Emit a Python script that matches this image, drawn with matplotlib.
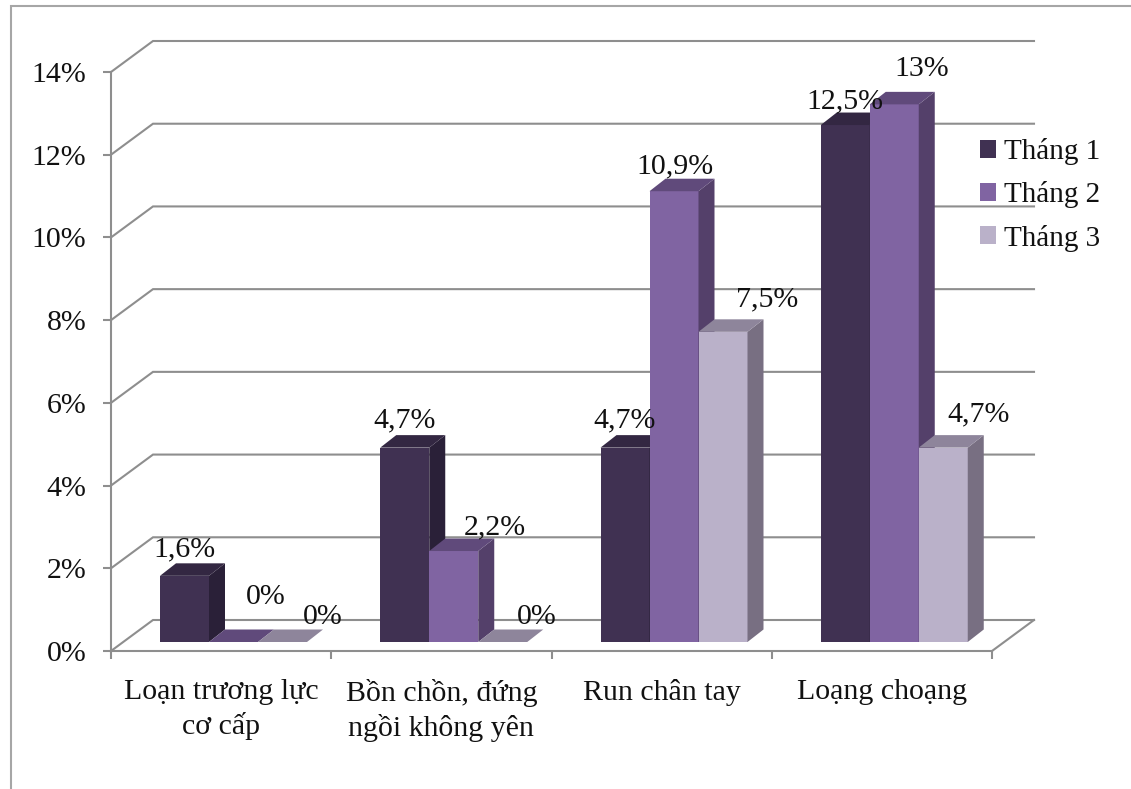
import matplotlib.pyplot as plt
from matplotlib.lines import Line2D
from matplotlib.patches import Patch, Polygon

plt.rcParams["font.family"] = ["Liberation Serif", "DejaVu Serif"]

categories = ["Loạn trương lực\ncơ cấp", "Bồn chồn, đứng\nngồi không yên", "Run chân tay", "Loạng choạng"]
series_names = ["Tháng 1", "Tháng 2", "Tháng 3"]
thang_1 = [1.6, 4.7, 4.7, 12.5]
thang_2 = [0, 2.2, 10.9, 13]
thang_3 = [0, 0, 7.5, 4.7]
y_ticks = [0, 2, 4, 6, 8, 10, 12, 14]

# front, side, top shade of each series
shades = [
    ("#403152", "#2a2038", "#332742"),
    ("#8064a2", "#54406a", "#604a7b"),
    ("#bab1c9", "#786f82", "#8e859b"),
]

W, H = 1131, 789
GRID = "#8e8e8e"

fig = plt.figure(figsize=(W / 100, H / 100), dpi=100)
ax = fig.add_axes([111 / W, 1 - 651 / H, 881 / W, 579 / H])
ax.set_xlim(0, 4)
ax.set_ylim(0, 14)

# 3d look: wall offset, bar offset (data units)
wall_dx, wall_dy = 42 / 220.25, 31 / 41.36
bar_dx, bar_dy = 16 / 220.25, 12.5 / 41.36
bar_w = 49 / 220.25
base_y = 9 / 41.36

for v in y_ticks:
    ax.plot([0, wall_dx, 4 + wall_dx], [v, v + wall_dy, v + wall_dy], color=GRID, lw=1.5,
            clip_on=False, zorder=1, solid_joinstyle="miter")
ax.plot([4, 4 + wall_dx], [0, wall_dy], color=GRID, lw=1.5, clip_on=False, zorder=1)

# label nudges in pixels from the bar's front top edge
label_dx = [[0, 32, 40], [0, 41, 34], [0, 1, 44], [0, 27, 35]]
label_dy = [[26, 45, 25], [27, 24, 25], [27, 25, 32], [24, 35, 33]]

all_series = [thang_1, thang_2, thang_3]
for c in range(len(categories)):
    for s, values in enumerate(all_series):
        v = values[c]
        front, side, top = shades[s]
        x0 = c + bar_w * (s + 1)
        x1 = x0 + bar_w
        y0, y1 = base_y, base_y + v
        ax.add_patch(Polygon([(x0, y0), (x1, y0), (x1, y1), (x0, y1)], color=front, lw=0, zorder=3, clip_on=False))
        ax.add_patch(Polygon([(x1, y0), (x1 + bar_dx, y0 + bar_dy), (x1 + bar_dx, y1 + bar_dy), (x1, y1)],
                             color=side, lw=0, zorder=3, clip_on=False))
        ax.add_patch(Polygon([(x0, y1), (x1, y1), (x1 + bar_dx, y1 + bar_dy), (x0 + bar_dx, y1 + bar_dy)],
                             color=top, lw=0, zorder=3, clip_on=False))
        ax.annotate(f"{v:g}%".replace(".", ","), xy=((x0 + x1) / 2, y1),
                    xytext=(label_dx[c][s], label_dy[c][s]), textcoords="offset pixels",
                    ha="center", va="center", fontsize=21.5, color="#111111", zorder=6)

for name in ["top", "right"]:
    ax.spines[name].set_visible(False)
for name in ["left", "bottom"]:
    ax.spines[name].set_color(GRID)
    ax.spines[name].set_linewidth(1.5)
    ax.spines[name].set_zorder(2)

ax.set_yticks(y_ticks)
ax.set_yticklabels([f"{v}%" for v in y_ticks], fontsize=21.5, color="#111111")
ax.set_xticks(range(5))
ax.set_xticklabels([])
ax.set_xticks([i + 0.5 for i in range(4)], categories, minor=True, fontsize=21.5, color="#111111",
              linespacing=1.34, va="top")
ax.tick_params(axis="both", which="major", color=GRID, width=1.5, length=5.8)
ax.tick_params(axis="y", pad=12)
ax.tick_params(axis="x", which="minor", length=0, pad=20)

handles = [Patch(facecolor=sh[0], edgecolor="none") for sh in shades]
leg = ax.legend(handles, series_names, loc="center left", bbox_to_anchor=(980 / W, 1 - 195 / H),
                bbox_transform=fig.transFigure, frameon=False, fontsize=21, handlelength=0.55,
                handleheight=0.55, handletextpad=0.28, labelspacing=0.55, borderpad=0, borderaxespad=0)
leg.set_zorder(7)
for t in leg.get_texts():
    t.set_color("#111111")

# chart frame, open on the right and bottom
fig.add_artist(Line2D([11 / W, 11 / W, 1], [0, 1 - 6 / H, 1 - 6 / H], color="#a6a6a6", lw=1.5,
                      solid_joinstyle="miter"))

fig.savefig("out.png", dpi=100)
plt.close(fig)
